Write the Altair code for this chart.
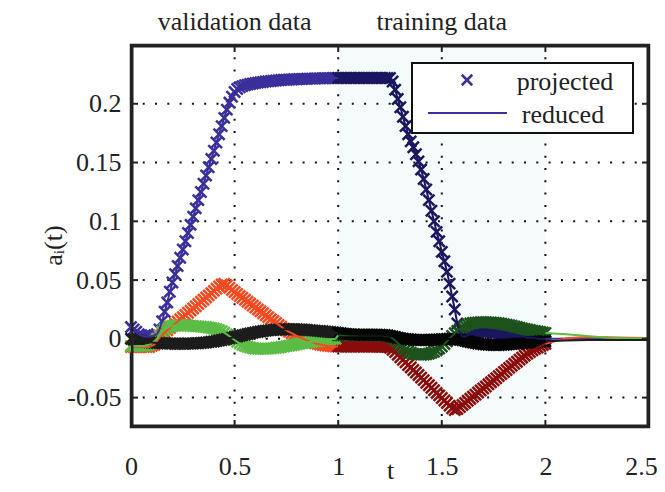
import altair as alt
import pandas as pd

# ---------------- data ----------------
T_STEP = 0.0125
t_proj = [round(k * T_STEP, 4) for k in range(161)]          # sampling grid 0..2
t_tail = [2.0, 2.1, 2.2, 2.3, 2.4, 2.5]                       # reduced only, after training

mode_names = ["a1", "a2", "a3", "a4"]

a1 = [0.010, 0.008, 0.006, 0.004, 0.003, 0.002, 0.002, 0.002,
      0.002, 0.003, 0.004, 0.008, 0.015, 0.023, 0.031, 0.040,
      0.048, 0.055, 0.062, 0.069, 0.076, 0.083, 0.090, 0.097,
      0.104, 0.111, 0.118, 0.125, 0.132, 0.139, 0.146, 0.153,
      0.160, 0.167, 0.174, 0.181, 0.188, 0.195, 0.201, 0.206,
      0.210, 0.2125, 0.214, 0.215, 0.2157, 0.2163, 0.2168, 0.2172,
      0.2176, 0.2180, 0.2183, 0.2186, 0.2189, 0.2192, 0.2194, 0.2196,
      0.2198, 0.2200, 0.2202, 0.2204, 0.2205, 0.2206, 0.2207, 0.2208,
      0.2209, 0.2210, 0.2211, 0.2212, 0.2213, 0.2214, 0.2214, 0.2215,
      0.2216, 0.2216, 0.2217, 0.2217, 0.2218, 0.2218, 0.2219, 0.2219,
      0.222, 0.222, 0.222, 0.222, 0.222, 0.222, 0.222, 0.222,
      0.222, 0.222, 0.222, 0.222, 0.222, 0.222, 0.222, 0.222,
      0.222, 0.222, 0.222, 0.222, 0.222, 0.219, 0.212, 0.204,
      0.197, 0.189, 0.181, 0.174, 0.168, 0.163, 0.157, 0.151,
      0.144, 0.136, 0.127, 0.118, 0.109, 0.100, 0.091, 0.083,
      0.074, 0.066, 0.057, 0.047, 0.036, 0.025, 0.013, 0.005,
      0.002, 0.002, 0.003, 0.004, 0.005, 0.005, 0.006, 0.006,
      0.006, 0.006, 0.006, 0.006, 0.005, 0.005, 0.005, 0.004,
      0.004, 0.004, 0.003, 0.003, 0.003, 0.002, 0.002, 0.002,
      0.002, 0.001, 0.001, 0.001, 0.001, 0.000, 0.000, 0.000,
      0.000]
a1_tail = [0.0, 0.0, 0.0, 0.0, 0.0, 0.0]

a2 = [-0.007, -0.007, -0.007, -0.007, -0.007, -0.007, -0.007, -0.007,
      -0.006, -0.005, -0.002, 0.001, 0.0035, 0.0054, 0.0072, 0.0091,
      0.0110, 0.0128, 0.0147, 0.0166, 0.0184, 0.0203, 0.0222, 0.0240,
      0.0259, 0.0277, 0.0296, 0.0315, 0.0333, 0.0352, 0.0370, 0.0389,
      0.0408, 0.0426, 0.0445, 0.0462, 0.0468, 0.0455, 0.0435, 0.0415,
      0.0398, 0.0382, 0.0365, 0.0349, 0.0332, 0.0316, 0.0300, 0.0283,
      0.0267, 0.0250, 0.0234, 0.0218, 0.0201, 0.0185, 0.0168, 0.0152,
      0.0136, 0.0119, 0.0103, 0.0087, 0.0072, 0.0060, 0.0048, 0.0037,
      0.0026, 0.0015, 0.0005, -0.0005, -0.0014, -0.0022, -0.0030, -0.0037,
      -0.0043, -0.0048, -0.0053, -0.0057, -0.0060, -0.0062, -0.0064, -0.0065,
      -0.0066, -0.0066, -0.0066, -0.0066, -0.0066, -0.0066, -0.0066, -0.0066,
      -0.0066, -0.0066, -0.0066, -0.0066, -0.0066, -0.0066, -0.0066, -0.0066,
      -0.0067, -0.0067, -0.0068, -0.0070, -0.0075, -0.0093, -0.0113, -0.0135,
      -0.0157, -0.0178, -0.0200, -0.0222, -0.0243, -0.0265, -0.0287, -0.0308,
      -0.0330, -0.0351, -0.0373, -0.0395, -0.0416, -0.0438, -0.0460, -0.0481,
      -0.0503, -0.0524, -0.0546, -0.0568, -0.0590, -0.0605, -0.0598, -0.0580,
      -0.0562, -0.0545, -0.0527, -0.0510, -0.0492, -0.0475, -0.0457, -0.0440,
      -0.0422, -0.0405, -0.0387, -0.0370, -0.0352, -0.0335, -0.0317, -0.0300,
      -0.0282, -0.0265, -0.0247, -0.0230, -0.0212, -0.0195, -0.0177, -0.0160,
      -0.0143, -0.0127, -0.0112, -0.0098, -0.0085, -0.0073, -0.0062, -0.0052,
      -0.0043]
a2_tail = [-0.0043, 0.0005, 0.0015, 0.0013, 0.0010, 0.0008]

a3 = [-0.006, -0.006, -0.006, -0.006, -0.006, -0.006, -0.0055, -0.005,
      -0.004, -0.002, 0.000, 0.003, 0.006, 0.008, 0.0095, 0.0105,
      0.0110, 0.0113, 0.0115, 0.0115, 0.0115, 0.0114, 0.0113, 0.0112,
      0.0110, 0.0108, 0.0106, 0.0104, 0.0102, 0.0100, 0.0097, 0.0093,
      0.0088, 0.0082, 0.0074, 0.0064, 0.0052, 0.0038, 0.0022, 0.0006,
      -0.0010, -0.0025, -0.0038, -0.0050, -0.0060, -0.0068, -0.0074, -0.0079,
      -0.0082, -0.0084, -0.0085, -0.0085, -0.0084, -0.0083, -0.0081, -0.0079,
      -0.0076, -0.0073, -0.0070, -0.0066, -0.0062, -0.0058, -0.0054, -0.0050,
      -0.0046, -0.0042, -0.0038, -0.0034, -0.0030, -0.0027, -0.0024, -0.0021,
      -0.0018, -0.0015, -0.0012, -0.0009, -0.0006, -0.0003, -0.0001, 0.0001,
      0.003, 0.003, 0.003, 0.003, 0.003, 0.003, 0.003, 0.003,
      0.003, 0.003, 0.003, 0.003, 0.003, 0.003, 0.003, 0.003,
      0.003, 0.003, 0.0028, 0.0025, 0.0020, 0.0005, -0.0015, -0.0035,
      -0.0055, -0.0075, -0.0092, -0.0107, -0.0118, -0.0126, -0.0131, -0.0134,
      -0.0135, -0.0134, -0.0131, -0.0126, -0.0119, -0.0110, -0.0098, -0.0083,
      -0.0065, -0.0044, -0.0021, 0.0002, 0.0025, 0.0047, 0.0067, 0.0085,
      0.0100, 0.0112, 0.0122, 0.0130, 0.0135, 0.0138, 0.0140, 0.0141,
      0.0141, 0.0141, 0.0140, 0.0139, 0.0137, 0.0135, 0.0132, 0.0129,
      0.0125, 0.0121, 0.0116, 0.0111, 0.0106, 0.0100, 0.0094, 0.0088,
      0.0085, 0.0080, 0.0075, 0.0070, 0.0066, 0.0062, 0.0058, 0.0054,
      0.0050]
a3_tail = [0.0050, 0.0040, 0.0025, 0.0010, 0.0005, 0.0003]

a4 = [0.0000, -0.0005, -0.0010, -0.0015, -0.0020, -0.0023, -0.0026, -0.0029,
      -0.0031, -0.0033, -0.0035, -0.0036, -0.0037, -0.0038, -0.0039, -0.0040,
      -0.0040, -0.0041, -0.0041, -0.0041, -0.0041, -0.0041, -0.0040, -0.0040,
      -0.0039, -0.0038, -0.0037, -0.0035, -0.0033, -0.0031, -0.0028, -0.0025,
      -0.0022, -0.0018, -0.0014, -0.0010, -0.0005, 0.0000, 0.0005, 0.0010,
      0.0015, 0.0020, 0.0026, 0.0031, 0.0036, 0.0041, 0.0046, 0.0051,
      0.0055, 0.0059, 0.0063, 0.0066, 0.0069, 0.0072, 0.0074, 0.0076,
      0.0078, 0.0079, 0.0080, 0.0081, 0.0082, 0.0082, 0.0082, 0.0082,
      0.0081, 0.0080, 0.0079, 0.0078, 0.0076, 0.0074, 0.0072, 0.0070,
      0.0068, 0.0066, 0.0064, 0.0062, 0.0060, 0.0058, 0.0056, 0.0054,
      0.0050, 0.0047, 0.0044, 0.0042, 0.0040, 0.0038, 0.0037, 0.0036,
      0.0035, 0.0035, 0.0035, 0.0035, 0.0035, 0.0035, 0.0035, 0.0035,
      0.0035, 0.0034, 0.0032, 0.0029, 0.0025, 0.0020, 0.0015, 0.0010,
      0.0006, 0.0002, -0.0001, -0.0004, -0.0006, -0.0008, -0.0009, -0.0010,
      -0.0010, -0.0010, -0.0010, -0.0009, -0.0008, -0.0007, -0.0006, -0.0005,
      -0.0004, -0.0003, -0.0002, -0.0002, -0.0002, -0.0003, -0.0005, -0.0008,
      -0.0012, -0.0017, -0.0022, -0.0027, -0.0032, -0.0036, -0.0040, -0.0043,
      -0.0046, -0.0048, -0.0050, -0.0051, -0.0052, -0.0052, -0.0052, -0.0051,
      -0.0050, -0.0049, -0.0047, -0.0045, -0.0043, -0.0041, -0.0039, -0.0037,
      -0.0035, -0.0033, -0.0031, -0.0029, -0.0027, -0.0025, -0.0023, -0.0021,
      -0.0020]
a4_tail = [-0.0020, -0.0015, -0.0010, -0.0010, -0.0010, -0.0010]

series = {"a1": a1, "a2": a2, "a3": a3, "a4": a4}
tails = {"a1": a1_tail, "a2": a2_tail, "a3": a3_tail, "a4": a4_tail}

val_colors = {"a1": "#3b2f9c", "a2": "#f04b22", "a3": "#5cbd46", "a4": "#1c1c1c"}
trn_colors = {"a1": "#1b1660", "a2": "#8a0c0c", "a3": "#1d521d", "a4": "#050505"}

x_domain = [0, 2.5]
y_domain = [-0.075, 0.25]
x_ticks = [0, 0.5, 1, 1.5, 2, 2.5]
y_ticks = [-0.05, 0, 0.05, 0.1, 0.15, 0.2]
train_span = [1.0, 2.0]
region_labels = ["validation data", "training data"]
region_label_t = [0.5, 1.5]
legend_labels = ["projected", "reduced"]

# ---------------- tables ----------------
pts, lns = [], []
for m in mode_names:
    vals = series[m]
    for t, v in zip(t_proj, vals):
        seg = "val" if t < 1.0 else "trn"
        pts.append({"t": t, "v": v, "key": f"{m}-{seg}"})
        if t <= 1.0:
            lns.append({"t": t, "v": v, "key": f"{m}-val", "grp": f"{m}-a"})
        if t >= 1.0:
            lns.append({"t": t, "v": v, "key": f"{m}-trn", "grp": f"{m}-b"})
    for t, v in zip(t_tail, tails[m]):
        lns.append({"t": t, "v": v, "key": f"{m}-val", "grp": f"{m}-c"})
pts = pd.DataFrame(pts)
lns = pd.DataFrame(lns)

dom, rng = [], []
for m in mode_names:
    dom += [f"{m}-val", f"{m}-trn"]
    rng += [val_colors[m], trn_colors[m]]

W, H = 518, 382
FONT = "Liberation Serif"
FS = 26
XPATH = "M-1,-1L1,1M-1,1L1,-1"
FR = "#222222"

xs = alt.Scale(domain=x_domain, nice=False, zero=False)
ys = alt.Scale(domain=y_domain, nice=False, zero=False)
cs = alt.Scale(domain=dom, range=rng)

x_axis = alt.Axis(values=x_ticks, grid=False, ticks=False, domain=False, labelFlush=False,
                  labelFont=FONT, labelFontSize=FS, labelColor="#222",
                  labelPadding=26, labelExpr="'' + datum.value",
                  labelOffset={"condition": {"test": "datum.value == 2.5", "value": -8}, "value": 0},
                  title="t", titleFont=FONT, titleFontSize=FS, titleFontWeight="normal",
                  titleColor="#222", titleX=W / 2, titleY=56, titleBaseline="bottom")
y_axis = alt.Axis(values=y_ticks, grid=False, ticks=False, domain=False, labelFlush=False,
                  labelFont=FONT, labelFontSize=FS, labelColor="#222",
                  labelPadding=10, labelExpr="'' + datum.value",
                  title="aᵢ(t)", titleFont=FONT, titleFontSize=FS, titleFontWeight="normal",
                  titleColor="#222", titleX=-78, titleY=200, titleAngle=270,
                  titleBaseline="middle", titleAlign="center")

shade = alt.Chart(pd.DataFrame({"t0": [train_span[0]], "t1": [train_span[1]]})).mark_rect(
    color="#f1f8f8", opacity=0.7).encode(
    x=alt.X("t0:Q", scale=xs, axis=x_axis), x2="t1:Q")

vgrid = alt.Chart(pd.DataFrame({"gx": x_ticks[1:-1]})).mark_rule(
    color="#111", strokeWidth=2, strokeDash=[2, 10.3]).encode(x=alt.X("gx:Q", scale=xs))
hgrid = alt.Chart(pd.DataFrame({"gy": y_ticks})).mark_rule(
    color="#111", strokeWidth=2, strokeDash=[2, 10.3]).encode(
    y=alt.Y("gy:Q", scale=ys, axis=y_axis))

points = alt.Chart(pts).mark_point(shape=XPATH, filled=False, size=125, strokeWidth=2.5,
                                   opacity=1).encode(
    x=alt.X("t:Q", scale=xs), y=alt.Y("v:Q", scale=ys),
    color=alt.Color("key:N", scale=cs, legend=None))

lines = alt.Chart(lns).mark_line(strokeWidth=2).encode(
    x=alt.X("t:Q", scale=xs), y=alt.Y("v:Q", scale=ys),
    color=alt.Color("key:N", scale=cs, legend=None), detail="grp:N")

# inward ticks on all four sides
xt = pd.DataFrame({"tx": x_ticks[1:-1]})
yt = pd.DataFrame({"ty": y_ticks})
xtick_b = alt.Chart(xt).mark_rule(color=FR, strokeWidth=2).encode(
    x=alt.X("tx:Q", scale=xs), y=alt.value(H - 1), y2=alt.value(H - 7))
xtick_t = alt.Chart(xt).mark_rule(color=FR, strokeWidth=2).encode(
    x=alt.X("tx:Q", scale=xs), y=alt.value(1), y2=alt.value(7))
ytick_l = alt.Chart(yt).mark_rule(color=FR, strokeWidth=2).encode(
    y=alt.Y("ty:Q", scale=ys), x=alt.value(1), x2=alt.value(7))
ytick_r = alt.Chart(yt).mark_rule(color=FR, strokeWidth=2).encode(
    y=alt.Y("ty:Q", scale=ys), x=alt.value(W - 1), x2=alt.value(W - 7))

leg_df = pd.DataFrame({"lab": legend_labels})

# plot box, drawn just inside the plot area so none of its stroke is lost at the edge
frame_box = alt.Chart(leg_df.head(1)).mark_rect(fill="transparent", stroke=FR, strokeWidth=2.5).encode(
    x=alt.value(1.25), x2=alt.value(W - 1.25), y=alt.value(1.25), y2=alt.value(H - 1.25))

region_txt = alt.Chart(pd.DataFrame({"t": region_label_t, "lab": region_labels})).mark_text(
    font=FONT, fontSize=FS, color="#222", baseline="alphabetic", align="center").encode(
    x=alt.X("t:Q", scale=xs), y=alt.value(-15), text="lab:N")

# legend box
leg_box = alt.Chart(leg_df.head(1)).mark_rect(fill="white", stroke="#111", strokeWidth=2).encode(
    x=alt.value(281), x2=alt.value(502), y=alt.value(18), y2=alt.value(88))
leg_pt = alt.Chart(leg_df.head(1)).mark_point(shape=XPATH, filled=False, size=110,
                                                strokeWidth=2.5, color=val_colors["a1"], opacity=1).encode(
    x=alt.value(336), y=alt.value(35))
leg_ln = alt.Chart(leg_df.head(1)).mark_rule(strokeWidth=2, color=val_colors["a1"]).encode(
    x=alt.value(297), x2=alt.value(376), y=alt.value(68))
leg_t1 = alt.Chart(leg_df.iloc[[0]]).mark_text(font=FONT, fontSize=FS, color="#222",
                                                align="center", baseline="alphabetic").encode(
    x=alt.value(434), y=alt.value(45), text="lab:N")
leg_t2 = alt.Chart(leg_df.iloc[[1]]).mark_text(font=FONT, fontSize=FS, color="#222",
                                                align="center", baseline="alphabetic").encode(
    x=alt.value(432), y=alt.value(78), text="lab:N")

chart = alt.layer(shade, vgrid, hgrid, points, lines,
                  xtick_b, xtick_t, ytick_l, ytick_r, frame_box,
                  region_txt, leg_box, leg_pt, leg_ln, leg_t1, leg_t2).properties(
    width=W, height=H,
    background="white",
    autosize=alt.AutoSizeParams(type="none"),
    padding={"left": 123, "top": 37, "right": 8, "bottom": 57},
).configure_view(stroke=FR, strokeWidth=2.5)

chart.save("out.html", embed_options={"renderer": "svg", "actions": False})
